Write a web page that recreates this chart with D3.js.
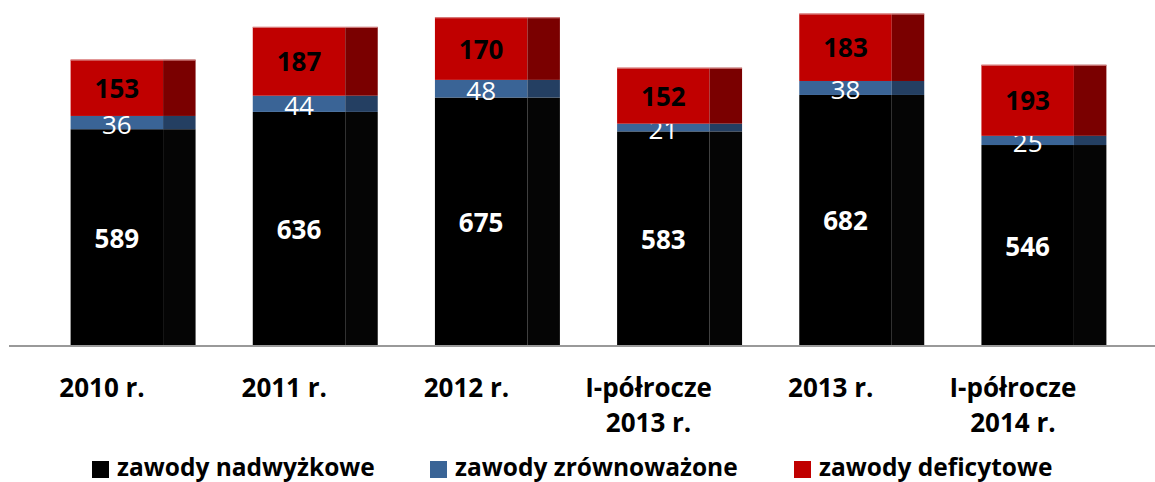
<html>
<head>
<meta charset="utf-8">
<script src="https://cdn.jsdelivr.net/npm/d3@7"></script>
<style>
  body { margin:0; background:#fff; }
  text { font-family: "Open Sans", Lato, sans-serif; }
</style>
</head>
<body>
<div id="graph"></div>
<script>
// data
const categories = [["2010 r."], ["2011 r."], ["2012 r."], ["I-półrocze", "2013 r."], ["2013 r."], ["I-półrocze", "2014 r."]];
const nadwyzkowe = [589, 636, 675, 583, 682, 546];
const zrownowazone = [36, 44, 48, 21, 38, 25];
const deficytowe = [153, 187, 170, 152, 183, 193];
const seriesNames = ["zawody nadwyżkowe", "zawody zrównoważone", "zawody deficytowe"];

const w = 1155, h = 482;
const colors = ["#000000", "#3a6496", "#c00000"];
const sideColors = ["#050505", "#243f62", "#7a0000"];
const labelColors = ["#ffffff", "#ffffff", "#000000"];
const labelWeights = ["bold", "normal", "bold"];

const svg = d3.select('#graph').append('svg').attr('width', w).attr('height', h);

const xScale = d3.scaleBand().domain(d3.range(categories.length))
  .range([42, 1135]).paddingInner(0.314).paddingOuter(0.157);
const yScale = d3.scaleLinear().domain([0, 940]).range([346, 0]);

const rows = categories.map((c, i) => ({i: i, vals: [nadwyzkowe[i], zrownowazone[i], deficytowe[i]]}));
const stack = d3.stack().keys([0, 1, 2]).value((d, k) => d.vals[k]);
const layers = stack(rows);

const bw = xScale.bandwidth();
const frontW = bw * 0.74;

layers.forEach((layer, k) => {
  const g = svg.append('g');
  g.selectAll('rect.front').data(layer).enter().append('rect')
    .attr('x', (d, i) => xScale(i))
    .attr('y', d => yScale(d[1]))
    .attr('width', frontW)
    .attr('height', d => yScale(d[0]) - yScale(d[1]))
    .attr('fill', colors[k]);
  g.selectAll('rect.side').data(layer).enter().append('rect')
    .attr('x', (d, i) => xScale(i) + frontW)
    .attr('y', d => yScale(d[1]))
    .attr('width', bw - frontW)
    .attr('height', d => yScale(d[0]) - yScale(d[1]))
    .attr('fill', sideColors[k]);
  g.selectAll('text').data(layer).enter().append('text')
    .attr('x', (d, i) => xScale(i) + frontW / 2)
    .attr('y', d => (yScale(d[0]) + yScale(d[1])) / 2 + (k == 1 ? 1.5 : 0))
    .attr('text-anchor', 'middle')
    .attr('dominant-baseline', 'central')
    .attr('font-size', 26)
    .attr('font-weight', labelWeights[k])
    .attr('fill', labelColors[k])
    .text(d => d[1] - d[0]);
});

// light edge on top of red bars
svg.selectAll('line.edge').data(layers[2]).enter().append('line')
  .attr('x1', (d, i) => xScale(i)).attr('x2', (d, i) => xScale(i) + bw)
  .attr('y1', d => yScale(d[1]) + 0.5).attr('y2', d => yScale(d[1]) + 0.5)
  .attr('stroke', '#d98a8a').attr('stroke-width', 1);

// axis line
svg.append('line').attr('x1', 9).attr('x2', 1155)
  .attr('y1', yScale(0)).attr('y2', yScale(0))
  .attr('stroke', '#999').attr('stroke-width', 2);

// category labels
const cat = svg.selectAll('text.cat').data(categories).enter().append('text')
  .attr('class', 'cat')
  .attr('text-anchor', 'middle')
  .attr('font-size', 26)
  .attr('font-weight', 'bold')
  .attr('fill', '#000');
cat.each(function(lines, i) {
  const t = d3.select(this);
  lines.forEach((s, j) => {
    t.append('tspan').attr('x', xScale(i) + bw / 2 - 31).attr('y', 397 + j * 35).text(s);
  });
});

// legend
const legX = [92, 430, 794];
const leg = svg.selectAll('g.leg').data(seriesNames).enter().append('g')
  .attr('transform', (d, i) => 'translate(' + legX[i] + ',461)');
leg.append('rect').attr('width', 17).attr('height', 17).attr('fill', (d, i) => colors[i]);
leg.append('text').attr('x', 25).attr('y', 15)
  .attr('font-size', 24.5).attr('font-weight', 'bold').attr('fill', '#000')
  .text(d => d);
</script>
</body>
</html>
